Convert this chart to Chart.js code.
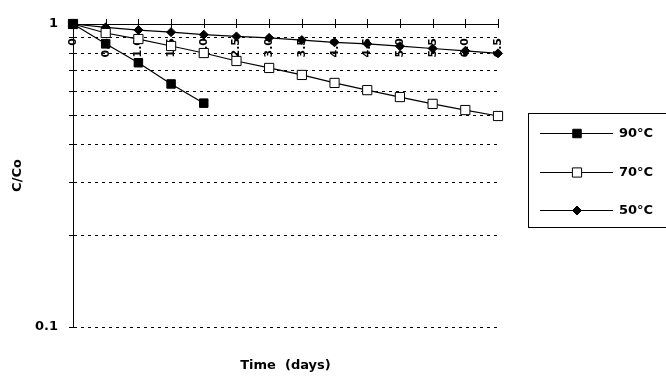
<!DOCTYPE html>
<html>
<head>
<meta charset="utf-8">
<script src="https://cdn.jsdelivr.net/npm/chart.js@4.4.0/dist/chart.umd.min.js"></script>
<style>
  html, body { margin: 0; padding: 0; background: #fff; }
  #wrap { width: 666px; height: 376px; position: relative; }
</style>
</head>
<body>
<div id="wrap"><canvas id="chart"></canvas></div>
<script>
// Data (C/Co vs time in days)
const days = [0, 0.5, 1.0, 1.5, 2.0, 2.5, 3.0, 3.5, 4.0, 4.5, 5.0, 5.5, 6.0, 6.5];
const tickLabels = ['0', '0.5', '1.0', '1.5', '2.0', '2.5', '3.0', '3.5', '4.0', '4.5', '5.0', '5.5', '6.0', '6.5'];
const yTicks = [0.1, 0.2, 0.3, 0.4, 0.5, 0.6, 0.7, 0.8, 0.9, 1];
const yLabels = ['0.1', '', '', '', '', '', '', '', '', '1'];
const c90 = [1, 0.86, 0.745, 0.634, 0.548];
const c70 = [1, 0.934, 0.892, 0.846, 0.802, 0.755, 0.716, 0.679, 0.639, 0.605, 0.574, 0.545, 0.52, 0.497];
const c50 = [1, 0.975, 0.955, 0.94, 0.922, 0.91, 0.9, 0.885, 0.87, 0.86, 0.845, 0.83, 0.815, 0.8];
const seriesNames = ['90°C', '70°C', '50°C'];

const FONT = "'DejaVu Sans', Arial, sans-serif";

function toPoints(vals) {
  return vals.map((v, i) => ({ x: days[i], y: v }));
}

// tick marks crossing the top axis + rotated labels hanging under it
const topAxisPlugin = {
  id: 'topAxis',
  beforeDatasetsDraw(chart) {
    const ctx = chart.ctx;
    const xs = chart.scales.x;
    const top = chart.chartArea.top;
    ctx.save();
    ctx.strokeStyle = '#000';
    ctx.lineWidth = 1;
    ctx.fillStyle = '#000';
    ctx.font = 'bold 11px ' + FONT;
    ctx.textAlign = 'right';
    ctx.textBaseline = 'middle';
    tickLabels.forEach(lbl => {
      const px = Math.round(xs.getPixelForValue(Number(lbl))) + 0.5;
      ctx.beginPath();
      ctx.moveTo(px, top - 5);
      ctx.lineTo(px, top + 4);
      ctx.stroke();
      ctx.save();
      ctx.translate(px, top + 14);
      ctx.rotate(-Math.PI / 2);
      ctx.fillText(lbl, 0, 0);
      ctx.restore();
    });
    ctx.restore();
  }
};

// boxed legend on the right
const boxLegendPlugin = {
  id: 'boxLegend',
  afterDraw(chart) {
    const ctx = chart.ctx;
    ctx.save();
    ctx.strokeStyle = '#000';
    ctx.lineWidth = 1;
    ctx.strokeRect(528.5, 113.5, 200, 114);
    const rows = [133, 172, 210];
    chart.data.datasets.forEach((ds, i) => {
      const y = rows[i] + 0.5;
      ctx.beginPath();
      ctx.moveTo(540, y);
      ctx.lineTo(613, y);
      ctx.stroke();
      ctx.fillStyle = ds.pointBackgroundColor;
      ctx.strokeStyle = '#000';
      Chart.helpers.drawPoint(ctx, {
        pointStyle: ds.pointStyle,
        radius: ds.pointRadius,
        rotation: 0,
        borderWidth: 1
      }, 577, y);
      ctx.fillStyle = '#000';
      ctx.font = 'bold 13px ' + FONT;
      ctx.textAlign = 'left';
      ctx.textBaseline = 'middle';
      ctx.fillText(ds.label, 619, rows[i] + 1);
    });
    ctx.restore();
  }
};

new Chart(document.getElementById('chart'), {
  type: 'line',
  data: {
    datasets: [
      {
        label: seriesNames[0], data: toPoints(c90),
        borderColor: '#000', borderWidth: 1.2,
        pointStyle: 'rect', pointRadius: 6,
        pointBackgroundColor: '#000', pointBorderColor: '#000', pointBorderWidth: 1,
        clip: false
      },
      {
        label: seriesNames[1], data: toPoints(c70),
        borderColor: '#000', borderWidth: 1.2,
        pointStyle: 'rect', pointRadius: 6.5,
        pointBackgroundColor: '#fff', pointBorderColor: '#000', pointBorderWidth: 1,
        clip: false
      },
      {
        label: seriesNames[2], data: toPoints(c50),
        borderColor: '#000', borderWidth: 1.2,
        pointStyle: 'rectRot', pointRadius: 4.5,
        pointBackgroundColor: '#000', pointBorderColor: '#000', pointBorderWidth: 1,
        clip: false
      }
    ]
  },
  options: {
    responsive: true,
    maintainAspectRatio: false,
    animation: false,
    events: [],
    layout: { padding: { left: 0, right: 168, top: 0, bottom: 0 } },
    plugins: { legend: { display: false }, tooltip: { enabled: false } },
    elements: { line: { tension: 0 } },
    scales: {
      x: {
        type: 'linear', position: 'top', min: 0, max: 6.5,
        grid: { display: false },
        border: { display: true, color: '#000', width: 1 },
        ticks: { display: false },
        afterFit(s) { s.height = 24; }
      },
      x2: {
        type: 'linear', position: 'bottom', min: 0, max: 6.5,
        grid: { display: false },
        border: { display: false },
        ticks: { display: false },
        title: {
          display: true, text: 'Time  (days)', color: '#000',
          font: { family: FONT, size: 13, weight: 'bold' },
          padding: { top: 0, bottom: 3 }
        },
        afterFit(s) { s.height = 49; }
      },
      y: {
        type: 'logarithmic', position: 'left', min: 0.1, max: 1,
        border: { display: true, color: '#000', width: 1, dash: [3, 4] },
        grid: { color: '#000', lineWidth: 1, drawTicks: true, tickLength: 4, tickColor: '#000', tickBorderDash: [] },
        afterBuildTicks(s) { s.ticks = yTicks.map(v => ({ value: v })); },
        ticks: {
          autoSkip: false, color: '#000', padding: 11,
          font: { family: FONT, size: 13, weight: 'bold' },
          callback: (v, i) => yLabels[i]
        },
        title: {
          display: true, text: 'C/Co', color: '#000',
          font: { family: FONT, size: 13, weight: 'bold' },
          padding: { top: 10, bottom: 0 }
        },
        afterFit(s) { s.width = 73; }
      }
    }
  },
  plugins: [topAxisPlugin, boxLegendPlugin]
});
</script>
</body>
</html>
